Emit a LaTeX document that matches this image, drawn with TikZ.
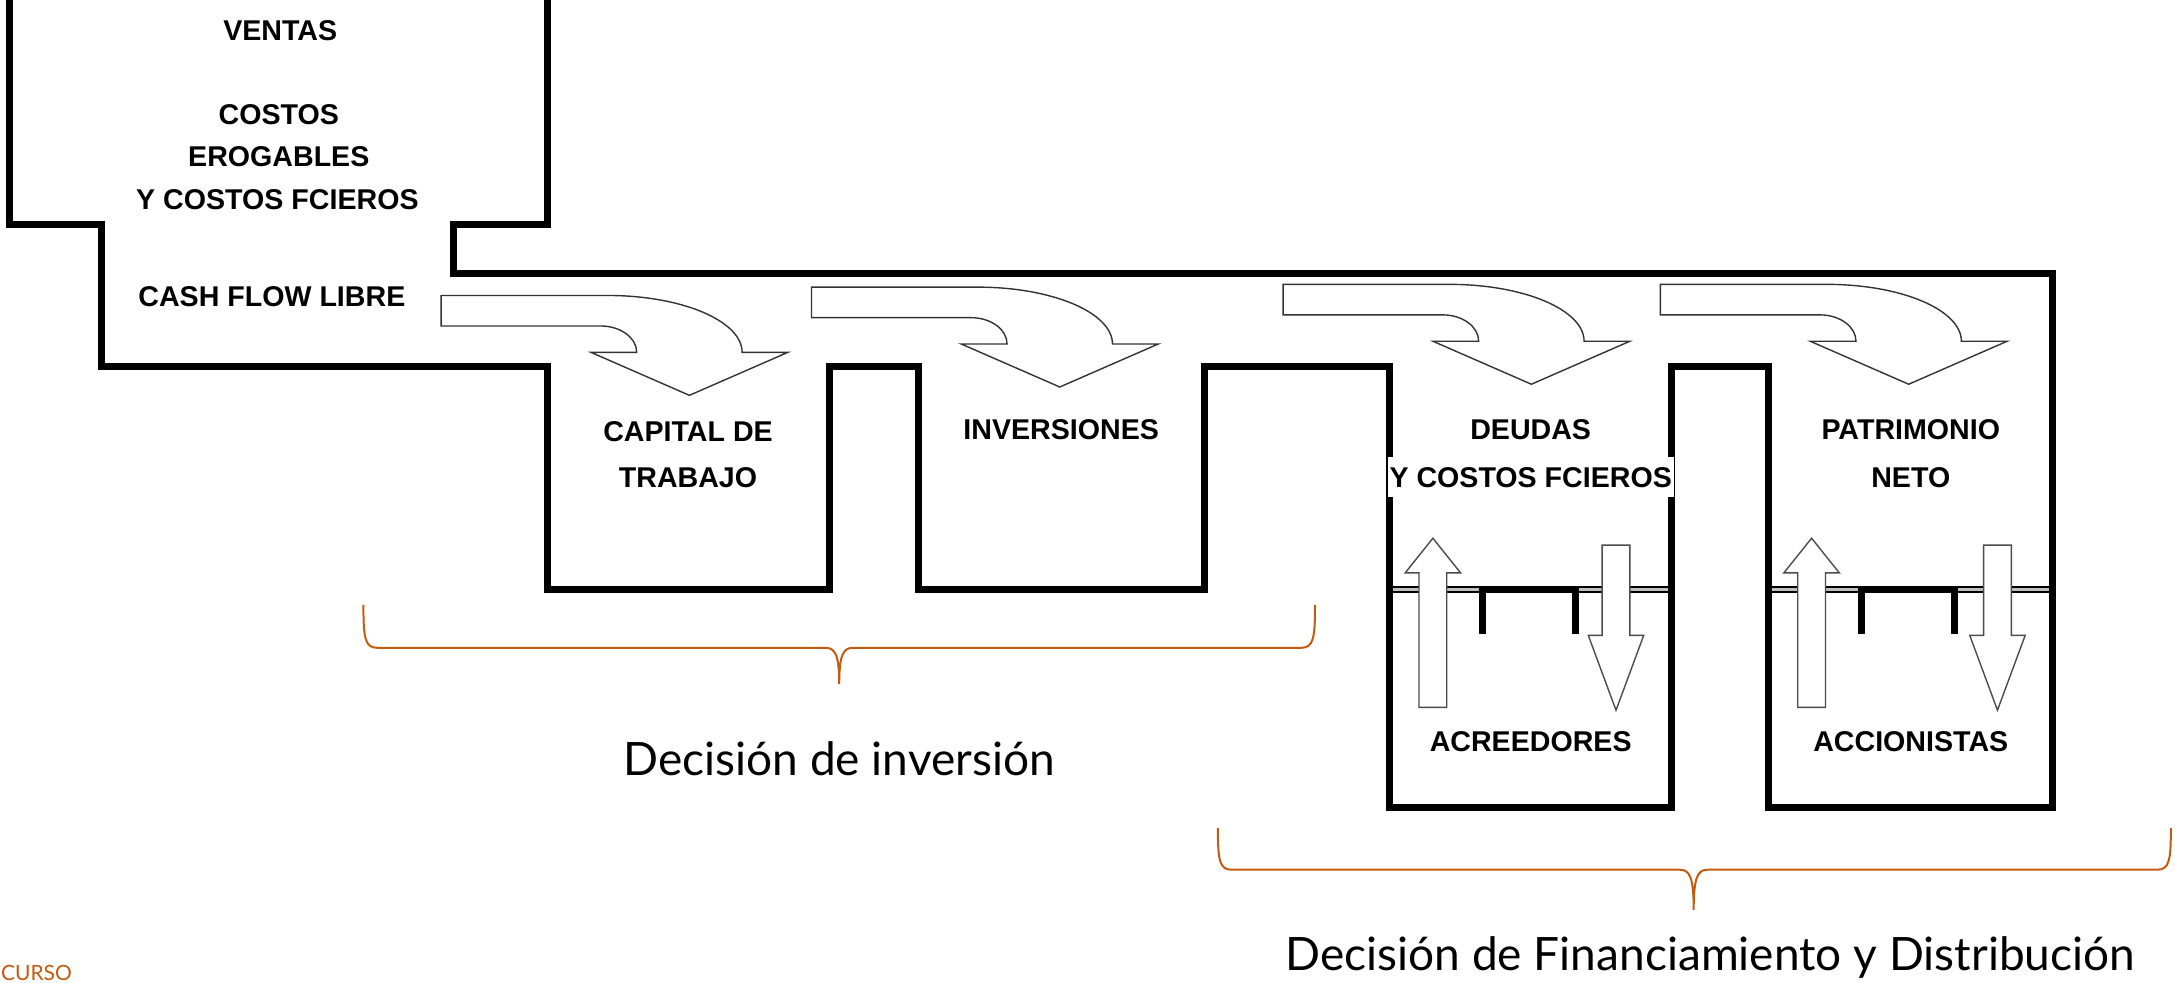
\documentclass[tikz,border=0pt]{standalone}
\usepackage{fontspec}
\setmainfont{Liberation Sans}
\newfontfamily\labfont{Lato}
\definecolor{brk}{RGB}{197,90,17}
\begin{document}
\begin{tikzpicture}[x=0.6935pt, y=-0.6935pt,
  wall/.style={line width=3.5pt, line join=miter},
  lbl/.style={font=\fontsize{14.3}{16}\selectfont\bfseries, inner sep=0pt},
  bentbody/.style={draw=black!80, line width=0.7pt, fill=white, line join=miter},
  tankarrow/.style={draw=black!70, line width=0.7pt, fill=white, line join=miter},
  bracestyle/.style={draw=brk, line width=1pt},
  botlbl/.style={font=\labfont\fontsize{23}{27}\selectfont, anchor=base, inner sep=0pt},
  levdouble/.style={line width=1pt, double=black!25, double distance=1.5pt},
  levthick/.style={line width=3.5pt},
  bentarrow/.pic={\path[bentbody] (0,0) -- (120,0) .. controls (173.6,0) and (217,18.4) .. (217,41) -- (250,41) -- (179,72) -- (108,41) -- (141,41) .. controls (141,30.5) and (129.4,22) .. (115,22) -- (0,22) -- cycle;},
  uparrow/.pic={\path[tankarrow] (0,0) -- (20,25) -- (10,25) -- (10,122) -- (-10,122) -- (-10,25) -- (-20,25) -- cycle;},
  downarrow/.pic={\path[tankarrow] (-10,0) -- (10,0) -- (10,65) -- (20,65) -- (0,119) -- (-20,65) -- (-10,65) -- cycle;}
]
\useasboundingbox[fill=white] (0,0) rectangle (1568,708);

% level lines in the two lower tanks
\foreach \L/\R in {1002/1205, 1275/1480}{
  \draw[levdouble] (\L,425) -- ({\L+67},425);
  \draw[levthick] ({\L+67},425) -- ({\L+134},425);
  \draw[levdouble] ({\L+134},425) -- (\R,425);
  \draw[levthick] ({\L+67},423.5) -- ({\L+67},457);
  \draw[levthick] ({\L+134},423.5) -- ({\L+134},457);
}

% walls
\draw[wall] (6.5,-5) -- (6.5,162) -- (73,162) -- (73,264) -- (394.5,264) -- (394.5,425)
  -- (598,425) -- (598,264) -- (662.5,264) -- (662.5,425) -- (868,425) -- (868,264)
  -- (1002,264) -- (1002,582) -- (1205,582) -- (1205,264) -- (1275,264) -- (1275,582)
  -- (1480,582) -- (1480,197.5) -- (327,197.5) -- (327,162) -- (394.5,162) -- (394.5,-5);

% bent arrows
\pic at (318,213) {bentarrow};
\pic at (585,207) {bentarrow};
\pic at (925,205) {bentarrow};
\pic at (1197,205) {bentarrow};

% tank arrows
\pic at (1033,388) {uparrow};
\pic at (1165,393) {downarrow};
\pic at (1306,388) {uparrow};
\pic at (1440,393) {downarrow};

% labels
\node[lbl] (ventas) at (202,22) {VENTAS};
\node[lbl] (costos) at (201,83) {COSTOS};
\node[lbl] (erog) at (201,113) {EROGABLES};
\node[lbl] (ycf) at (200,144) {Y COSTOS FCIEROS};
\node[lbl] (cash) at (196,214) {CASH FLOW LIBRE};
\node[lbl] (cap) at (496,311) {CAPITAL DE};
\node[lbl] (trab) at (496,344) {TRABAJO};
\node[lbl] (inv) at (765,310) {INVERSIONES};
\node[lbl] (deu) at (1103.5,310) {DEUDAS};
\node[lbl, fill=white, inner xsep=1pt, inner ysep=5pt] (ycf2) at (1103.5,344) {Y COSTOS FCIEROS};
\node[lbl] (pat) at (1377.5,310) {PATRIMONIO};
\node[lbl] (neto) at (1377.5,344) {NETO};
\node[lbl] (acr) at (1103.5,535) {ACREEDORES};
\node[lbl] (acc) at (1377.5,535) {ACCIONISTAS};

% braces
\draw[bracestyle] (262,436) .. controls (262,460) and (263,467) .. (272,467) -- (595,467)
  .. controls (602,467) and (605,472) .. (605,493)
  .. controls (605,472) and (608,467) .. (615,467) -- (938,467)
  .. controls (947,467) and (948,460) .. (948,436);
\draw[bracestyle] (878,597) .. controls (878,620) and (879,627) .. (888,627) -- (1211,627)
  .. controls (1218,627) and (1221,632) .. (1221,656)
  .. controls (1221,632) and (1224,627) .. (1231,627) -- (1555,627)
  .. controls (1564,627) and (1565,620) .. (1565,597);

\node[botlbl] (dinv) at (605,559) {Decisión de inversión};
\node[botlbl] (dfin) at (1233,700) {Decisión de Financiamiento y Distribución};
\node[font=\labfont\fontsize{10.5}{12}\selectfont, text=brk, anchor=base west, inner sep=0pt] (curso) at (0.5,706.5) {CURSO};
\end{tikzpicture}
\end{document}
